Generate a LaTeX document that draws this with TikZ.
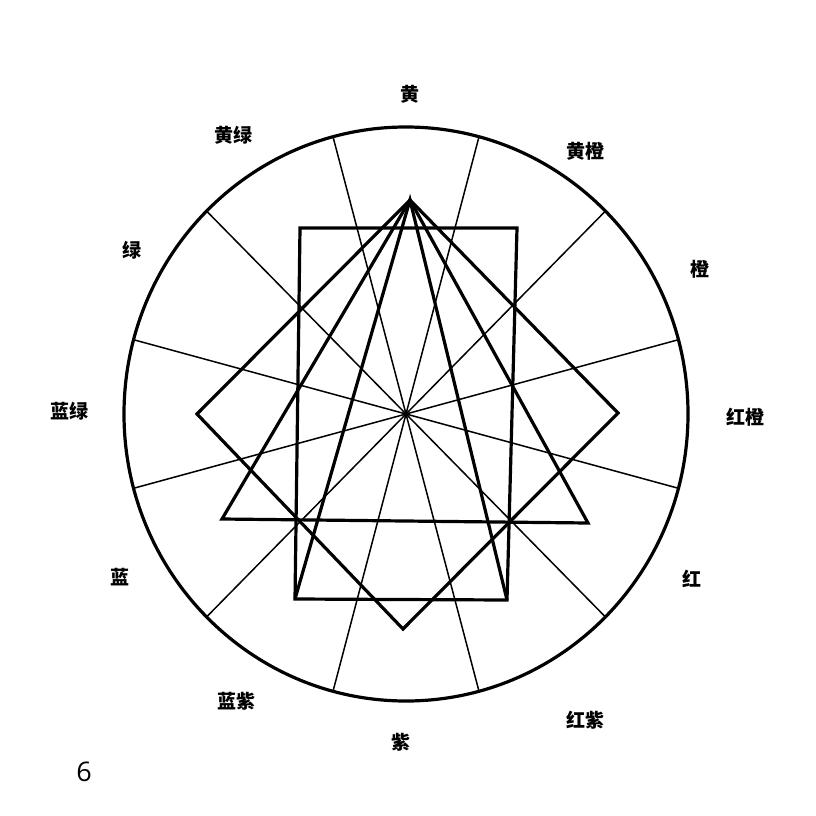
\documentclass[tikz,border=0pt]{standalone}
\usepackage{fontspec}
\usetikzlibrary{calc}
\setmainfont{Open Sans}
\newfontfamily\cjk{Noto Sans CJK SC}
\begin{document}
\begin{tikzpicture}[x=1pt,y=-1pt,
  thick line/.style={line width=3.2pt, line join=miter},
  spoke/.style={line width=1.5pt},
  lbl/.style={font=\cjk\bfseries\fontsize{19}{19}\selectfont, inner sep=0pt},
  pagenum/.style={font=\fontsize{27}{27}\selectfont, inner sep=0pt}]
\useasboundingbox (0,0) rectangle (816,816);
% centre and outer circle
\coordinate (c) at (406,414);
\draw[thick line] (c) ellipse [x radius=282, y radius=287];
% spokes
\foreach \a in {15,45,...,345}{
  \coordinate (s\a) at ($(c)+(\a:282 and 287)$);
}
\foreach \a/\b in {15/195,45/225,75/255,105/285,135/315,165/345}{
  \draw[spoke] (s\a) -- (s\b);
}
% figure vertices
\coordinate (apex) at (410,200);
\coordinate (r1) at (300,228);
\coordinate (r2) at (517,228);
\coordinate (r3) at (507,600);
\coordinate (r4) at (295,599);
\coordinate (tl) at (222,519);
\coordinate (tr) at (588,523);
\coordinate (dr) at (618,413);
\coordinate (db) at (403,629);
\coordinate (dl) at (197,414);
% rectangle
\draw[thick line] (r1) -- (r2) -- (r3) -- (r4) -- cycle;
% triangle
\draw[thick line] (apex) -- (tl) -- (tr) -- cycle;
% diamond
\draw[thick line] (apex) -- (dr) -- (db) -- (dl) -- cycle;
% tall triangle onto rectangle base
\draw[thick line] (r4) -- (apex) -- (r3);
% labels
\node[lbl] (huang) at (410,94) {黄};
\node[lbl] (huangcheng) at (585,151) {黄橙};
\node[lbl] (cheng) at (700,269) {橙};
\node[lbl] (hongcheng) at (745,417) {红橙};
\node[lbl] (hong) at (692,579) {红};
\node[lbl] (hongzi) at (585,720) {红紫};
\node[lbl] (zi) at (401,742) {紫};
\node[lbl] (lanzi) at (236,701) {蓝紫};
\node[lbl] (lan) at (120,577) {蓝};
\node[lbl] (lanlv) at (69,411) {蓝绿};
\node[lbl] (lv) at (132,250) {绿};
\node[lbl] (huanglv) at (233,135) {黄绿};
\node[pagenum] (page) at (84,772) {6};
\end{tikzpicture}
\end{document}
